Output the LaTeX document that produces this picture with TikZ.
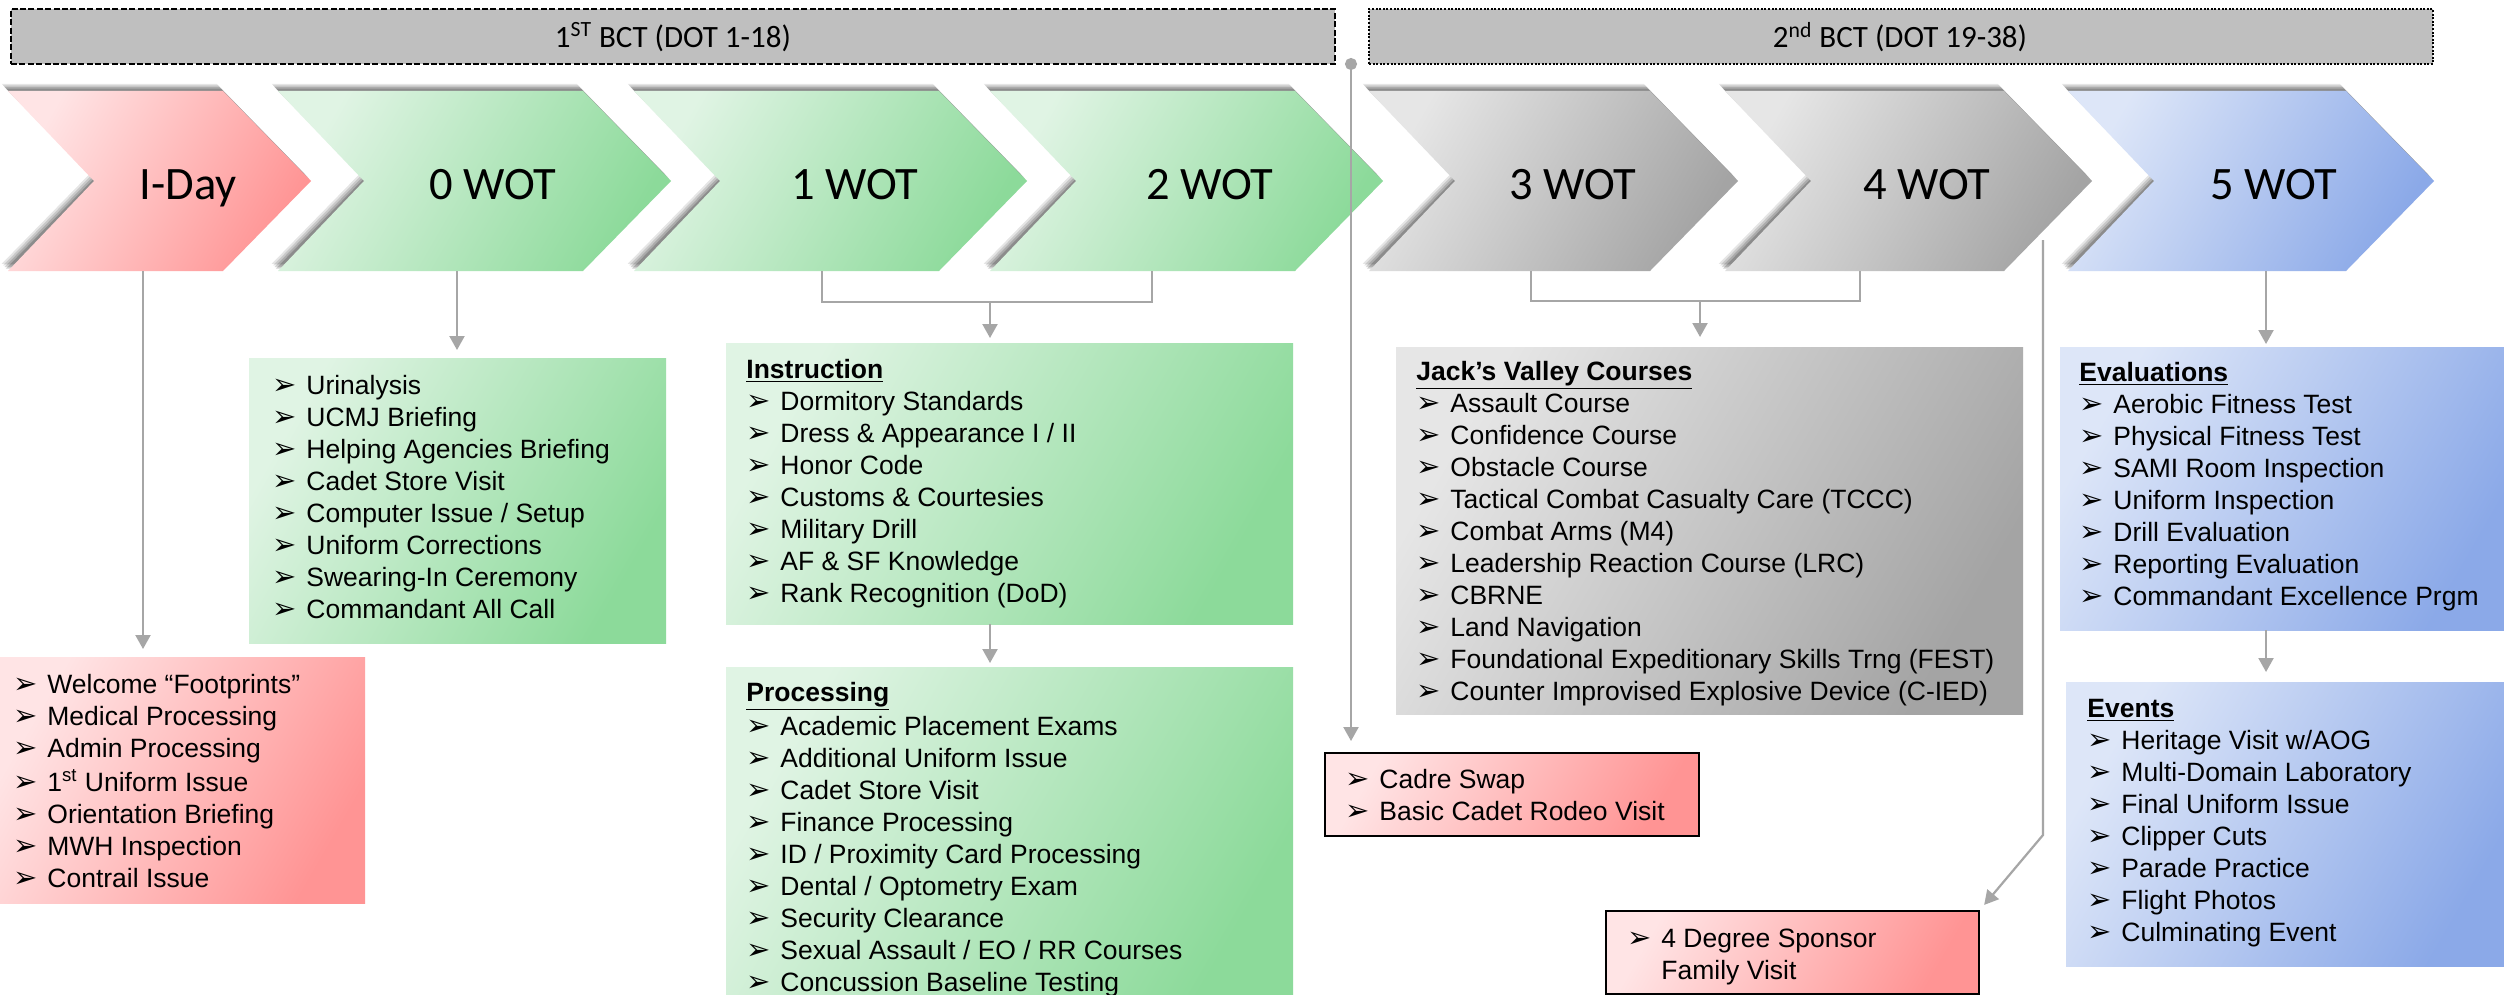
\documentclass[tikz,border=0pt]{standalone}
\usepackage{fontspec}
\setmainfont{Liberation Sans}
\newfontfamily\calfont{Carlito}
\newfontfamily\symfont{DejaVu Sans}
\usetikzlibrary{arrows.meta,fit}

\definecolor{pinkL}{HTML}{FFE4E5}
\definecolor{pinkD}{HTML}{FF9494}
\definecolor{grnL}{HTML}{E0F4E4}
\definecolor{grnD}{HTML}{8CDA9A}
\definecolor{gryL}{HTML}{E6E6E6}
\definecolor{gryD}{HTML}{A4A4A4}
\definecolor{bluL}{HTML}{DDE6F8}
\definecolor{bluD}{HTML}{8BA9E8}
\definecolor{bctfill}{HTML}{BFBFBF}
\definecolor{conncol}{HTML}{A6A6A6}

\newcommand\bul{\makebox[17pt][l]{\symfont\fontsize{14.5}{10}\selectfont ➢}}
\newcommand\st{\rule[-4.8pt]{0pt}{16pt}}
\newcommand\chevron[3]{%
  \foreach \s/\o in {9/0.10,7/0.12,5/0.15,3/0.18}{
    \fill[black,opacity=\o] ({#1-\s*0.7},{91-\s*0.8}) -- ({#2-88-\s*0.7},{91-\s*0.8}) -- ({#2-\s*0.7},{181-\s*0.8}) -- ({#2-88-\s*0.7},{271-\s*0.8}) -- ({#1-\s*0.7},{271-\s*0.8}) -- ({#1+88-\s*0.7},{181-\s*0.8}) -- cycle;}
  \path[#3] (#1,91) -- ({#2-88},91) -- (#2,181) -- ({#2-88},271) -- (#1,271) -- ({#1+86},181) -- cycle;
}

\tikzset{
  pinkfill/.style={top color=pinkL, bottom color=pinkD, shading angle=60},
  grnfill/.style={top color=grnL, bottom color=grnD, shading angle=60},
  gryfill/.style={top color=gryL, bottom color=gryD, shading angle=60},
  blufill/.style={top color=bluL, bottom color=bluD, shading angle=60},
  box/.style={inner sep=0pt, outer sep=0pt},
  redbox/.style={box, pinkfill, draw=black, line width=1.2pt},
  bct/.style={box, fill=bctfill, draw=black, line width=0.9pt},
  bctlab/.style={inner sep=0pt, font=\calfont\fontsize{15.5}{18}\selectfont},
  chevlab/.style={inner sep=0pt, anchor=base, font=\calfont\fontsize{23.25}{28}\selectfont},
  lst/.style={inner sep=0pt, anchor=north west, align=left, font=\fontsize{13.25}{16}\selectfont},
  connl/.style={draw=conncol, line width=1.1pt},
  conn/.style={connl, -{Triangle[width=7.5pt,length=7pt]}},
}

\begin{document}
\begin{tikzpicture}[x=0.5pt,y=-0.5pt]
\useasboundingbox (0,0) rectangle (2504,995);
\clip (0,0) rectangle (2504,995);
\fill[white] (0,0) rectangle (2504,995);

% phase bars
\node[bct, dash pattern=on 3pt off 1.2pt, fit={(11,9)(1335,64)}] (bct1) {};
\node[bct, dash pattern=on 1pt off 0.8pt, fit={(1369,9)(2433,64)}] (bct2) {};
\node[bctlab] (bct1lab) at (673,37) {1\textsuperscript{ST} BCT (DOT 1-18)};
\node[bctlab] (bct2lab) at (1900,37) {2\textsuperscript{nd} BCT (DOT 19-38)};

% chevrons
\chevron{8}{311}{pinkfill}
\chevron{278}{671}{grnfill}
\chevron{634}{1027}{grnfill}
\chevron{990}{1383}{grnfill}
\chevron{1369}{1738}{gryfill}
\chevron{1725}{2092}{gryfill}
\chevron{2068}{2434}{blufill}

\node[chevlab] (iday) at (188,199) {I-Day};
\node[chevlab] (w0) at (493,199) {0 WOT};
\node[chevlab] (w1) at (855,199) {1 WOT};
\node[chevlab] (w2) at (1210,199) {2 WOT};
\node[chevlab] (w3) at (1573,199) {3 WOT};
\node[chevlab] (w4) at (1927,199) {4 WOT};
\node[chevlab] (w5) at (2274,199) {5 WOT};

% boxes
\node[box, pinkfill, fit={(0,657)(365,903)}] (bIday) {};
\node[box, grnfill, fit={(249,358)(666,643)}] (b0) {};
\node[box, grnfill, fit={(726,343)(1293,624)}] (bIns) {};
\node[box, grnfill, fit={(726,667)(1293,1010)}] (bProc) {};
\node[box, gryfill, fit={(1396,347)(2023,714)}] (bJack) {};
\node[redbox, fit={(1325,753)(1699,836)}] (bCadre) {};
\node[redbox, fit={(1606,911)(1979,994)}] (bSpon) {};
\node[box, blufill, fit={(2060,347)(2510,630)}] (bEval) {};
\node[box, blufill, fit={(2066,682)(2510,966)}] (bEvt) {};

% lists
\node[lst] (tIday) at (13,670.6) {\bul Welcome “Footprints”\st\\
\bul Medical Processing\st\\
\bul Admin Processing\st\\
\bul 1\textsuperscript{st} Uniform Issue\st\\
\bul Orientation Briefing\st\\
\bul MWH Inspection\st\\
\bul Contrail Issue\st};

\node[lst] (t0) at (272,371.6) {\bul Urinalysis\st\\
\bul UCMJ Briefing\st\\
\bul Helping Agencies Briefing\st\\
\bul Cadet Store Visit\st\\
\bul Computer Issue / Setup\st\\
\bul Uniform Corrections\st\\
\bul Swearing-In Ceremony\st\\
\bul Commandant All Call\st};

\node[lst] (tIns) at (746,355.6) {\underline{\textbf{Instruction}}\st\\
\bul Dormitory Standards\st\\
\bul Dress \& Appearance I / II\st\\
\bul Honor Code\st\\
\bul Customs \& Courtesies\st\\
\bul Military Drill\st\\
\bul AF \& SF Knowledge\st\\
\bul Rank Recognition (DoD)\st};

\node[lst] (tProc) at (746,678.6) {\underline{\textbf{Processing}}\st\\
\bul Academic Placement Exams\st\\
\bul Additional Uniform Issue\st\\
\bul Cadet Store Visit\st\\
\bul Finance Processing\st\\
\bul ID / Proximity Card Processing\st\\
\bul Dental / Optometry Exam\st\\
\bul Security Clearance\st\\
\bul Sexual Assault / EO / RR Courses\st\\
\bul Concussion Baseline Testing\st};

\node[lst] (tJack) at (1416,357.6) {\underline{\textbf{Jack’s Valley Courses}}\st\\
\bul Assault Course\st\\
\bul Confidence Course\st\\
\bul Obstacle Course\st\\
\bul Tactical Combat Casualty Care (TCCC)\st\\
\bul Combat Arms (M4)\st\\
\bul Leadership Reaction Course (LRC)\st\\
\bul CBRNE\st\\
\bul Land Navigation\st\\
\bul Foundational Expeditionary Skills Trng (FEST)\st\\
\bul Counter Improvised Explosive Device (C-IED)\st};

\node[lst] (tCadre) at (1345,765.6) {\bul Cadre Swap\st\\
\bul Basic Cadet Rodeo Visit\st};

\node[lst] (tSpon) at (1627,924.6) {\bul 4 Degree Sponsor\st\\
\makebox[17pt]{}Family Visit\st};

\node[lst] (tEval) at (2079,358.6) {\underline{\textbf{Evaluations}}\st\\
\bul Aerobic Fitness Test\st\\
\bul Physical Fitness Test\st\\
\bul SAMI Room Inspection\st\\
\bul Uniform Inspection\st\\
\bul Drill Evaluation\st\\
\bul Reporting Evaluation\st\\
\bul Commandant Excellence Prgm\st};

\node[lst] (tEvt) at (2087,694.6) {\underline{\textbf{Events}}\st\\
\bul Heritage Visit w/AOG\st\\
\bul Multi-Domain Laboratory\st\\
\bul Final Uniform Issue\st\\
\bul Clipper Cuts\st\\
\bul Parade Practice\st\\
\bul Flight Photos\st\\
\bul Culminating Event\st};

% connectors
\coordinate (oI) at (143,271);
\coordinate (o0) at (457,271);
\coordinate (o1) at (822,271);
\coordinate (o2) at (1152,271);
\coordinate (m12) at (990,302);
\coordinate (o3) at (1531,271);
\coordinate (o4) at (1860,271);
\coordinate (m34) at (1700,301);
\coordinate (cTop) at (1351,58);
\coordinate (o4s) at (2043,240);
\coordinate (k4) at (2043,835);
\coordinate (o5) at (2266,271);

\draw[conn, shorten >=4pt] (oI) -- (oI |- bIday.north);
\draw[conn, shorten >=4pt] (o0) -- (o0 |- b0.north);
\draw[connl] (o1) |- (m12) -| (o2);
\draw[conn, shorten >=2.5pt] (m12) -- (m12 |- bIns.north);
\draw[conn, shorten >=2pt] (m12 |- bIns.south) -- (m12 |- bProc.north);
\draw[connl] (o3) |- (m34) -| (o4);
\draw[conn, shorten >=5pt] (m34) -- (m34 |- bJack.north);
\draw[connl, {Circle[length=6pt]}-{Triangle[width=7.5pt,length=7pt]}, shorten >=6pt] (cTop) -- (cTop |- bCadre.north);
\draw[conn, shorten >=4pt] (o4s) -- (k4) -- (bSpon.north east);
\draw[conn, shorten >=1.5pt] (o5) -- (o5 |- bEval.north);
\draw[conn, shorten >=5pt] (o5 |- bEval.south) -- (o5 |- bEvt.north);
\end{tikzpicture}
\end{document}
